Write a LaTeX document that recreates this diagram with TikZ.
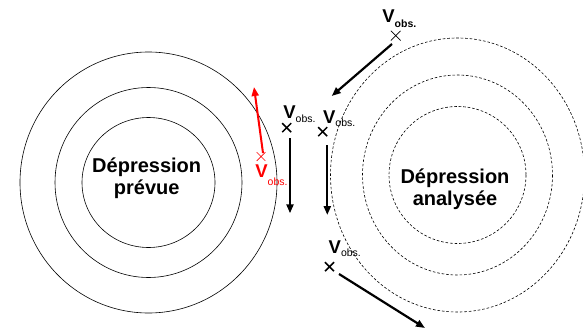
\documentclass[tikz,border=0pt]{standalone}
\usepackage{fontspec}
\setmainfont{Liberation Sans}
\usetikzlibrary{arrows.meta,shapes.misc,positioning}
\tikzset{every picture/.style={line width=0.75pt}}
\newcommand{\Vobs}[2][4.5pt]{{\fontsize{18.5}{19}\selectfont\bfseries V}\raisebox{-#1}{\fontsize{10.5}{11}\selectfont #2obs.}}

\begin{document}
\begin{tikzpicture}[x=1pt,y=-1pt,
    contour/.style={draw=black, line width=0.6pt},
    analyse/.style={draw=black, line width=0.6pt, dash pattern=on 2.6pt off 1.9pt},
    depr/.style={font=\fontsize{20}{22.5}\selectfont\bfseries, align=center, inner sep=0pt},
    obscross/.style={cross out, draw, minimum size=7.5pt, inner sep=0pt, line width=1.5pt},
    thincross/.style={cross out, draw, minimum size=9pt, inner sep=0pt, line width=0.7pt},
    obslabel/.style={anchor=base west, inner sep=0pt},
    deplacement/.style={-{Triangle[length=9pt,width=7pt]}, line width=2.2pt}]
    \clip (0,0) rectangle (583,332);

    % dépression prévue (gauche)
    \draw[contour] (148.5,182.5) ellipse [x radius=128.5, y radius=130.5];
    \draw[contour] (148.5,182.5) ellipse [x radius=93.5, y radius=95];
    \draw[contour] (148.5,182.5) ellipse [x radius=66.5, y radius=65];
    \node[depr] (prevue) at (146.7,178) {Dépression\\prévue};

    % dépression analysée (droite)
    \draw[analyse] (457.5,175) ellipse [x radius=127, y radius=137];
    \draw[analyse] (457.5,175) ellipse [x radius=95, y radius=100];
    \draw[analyse] (457.5,175) ellipse [x radius=68.5, y radius=68.5];
    \node[depr] (analysee) at (455,189) {Dépression\\analysée};

    % observations
    \node[thincross] (c1) at (395.7,35.7) {};
    \node[obscross] (c2) at (322.7,131.7) {};
    \node[obscross] (c3) at (286.7,127.7) {};
    \node[obscross] (c4) at (329.5,266.7) {};
    \node[thincross, draw=red, minimum size=8pt] (c5) at (261,156.5) {};

    \node[obslabel] (v1) at (382,22.7) {\Vobs[4.6pt]{\bfseries}};
    \node[obslabel] (v2) at (322.7,123.3) {\Vobs[3.5pt]{}};
    \node[obslabel] (v3) at (283,118) {\Vobs[4.5pt]{}};
    \node[obslabel] (v4) at (328.3,253.3) {\Vobs[3.5pt]{}};
    \node[obslabel, text=red] (v5) at (255,177.5) {\Vobs[8pt]{}};

    % vecteurs de déplacement
    \draw[deplacement] ([shift={(-3.7,8.3)}]c1.center) -- ++(-60.3,52);
    \draw[deplacement] ([shift={(4.6,13.3)}]c2.center) -- ++(0,70);
    \draw[deplacement] ([shift={(3.3,10.6)}]c3.center) -- ++(0,75);
    \draw[deplacement] ([shift={(9.5,7.3)}]c4.center) -- ++(86,54);
    \draw[deplacement, red, line width=2pt] ([shift={(2,-3.5)}]c5.center) -- ++(-9,-66);
\end{tikzpicture}
\end{document}
